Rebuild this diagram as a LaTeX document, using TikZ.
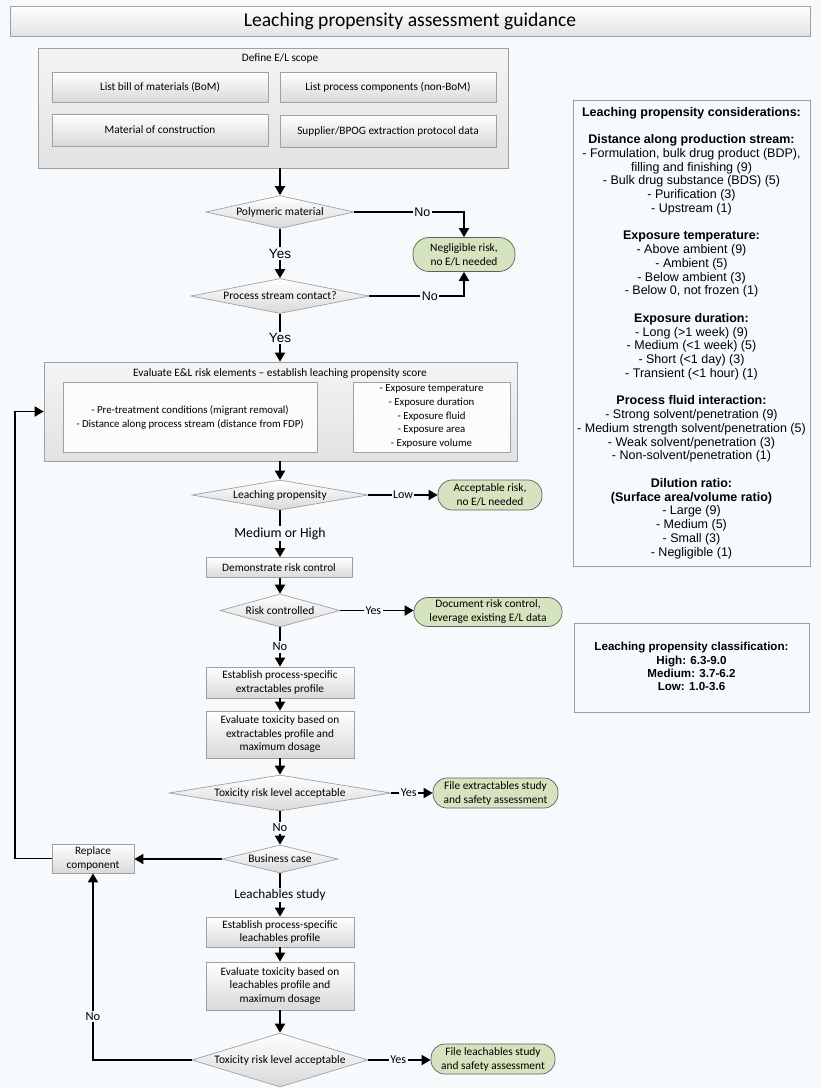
\documentclass[tikz,border=0pt]{standalone}
\usepackage{fontspec}
\setmainfont{Carlito}
\newfontfamily\arialf{Liberation Sans}
\usetikzlibrary{shapes.geometric,arrows.meta,calc}
\definecolor{bg}{HTML}{F7FAFD}
\definecolor{bord}{HTML}{A0A0A0}
\definecolor{gbot}{HTML}{D9D9D9}
\definecolor{ctop}{HTML}{F4F4F4}
\definecolor{cbot}{HTML}{E2E2E2}
\definecolor{gfill}{HTML}{D5E3BF}
\definecolor{gbord}{HTML}{5E5E5E}
\begin{document}
\begin{tikzpicture}[x=1pt,y=-1pt,
  every node/.style={font=\fontsize{11.3}{13.5}\selectfont, align=center, inner sep=0pt},
  cont/.style={draw=bord, line width=0.7pt, top color=ctop, bottom color=cbot},
  pbox/.style={draw=bord, line width=0.7pt, top color=white, bottom color=gbot},
  ibox/.style={draw=bord, line width=0.7pt, fill=white!50!bg},
  dia/.style={diamond, draw=bord, line width=0.7pt, top color=white, bottom color=gbot, font=\fontsize{11.5}{13}\selectfont},
  term/.style={draw=gbord, line width=0.7pt, fill=gfill, font=\fontsize{11.4}{14}\selectfont},
  arr/.style={line width=1.8pt, -{Triangle[length=9pt,width=10pt]}},
  lbl/.style={fill=bg, inner sep=1.5pt},
  toplbl/.style={lbl, font=\arialf\fontsize{13.5}{15}\selectfont},
  sidelbl/.style={lbl, font=\arialf\fontsize{12.5}{14}\selectfont},
  smlbl/.style={lbl, font=\fontsize{12}{13}\selectfont},
  biglbl/.style={lbl, font=\fontsize{13.8}{15}\selectfont},
  panel/.style={draw=gray!75, line width=0.8pt, fill=bg},
  ptext/.style={font=\arialf\fontsize{12.5}{13.75}\selectfont},
]
\useasboundingbox (0,0) rectangle (821,1088);
\fill[bg] (0,0) rectangle (821,1088);

% title
\node[draw=bord, line width=0.7pt, top color=white, bottom color=cbot, minimum width=800, minimum height=30,
  font=\fontsize{19.6}{21}\selectfont] (title) at (410,21) {Leaching propensity assessment guidance};

% scope
\node[cont, minimum width=470, minimum height=120] (scope) at (273,108) {};
\node (scopet) at (280,58) {Define E/L scope};
\node[pbox, minimum width=216, minimum height=30] (bom) at (160,87) {List bill of materials (BoM)};
\node[pbox, minimum width=216, minimum height=30] (nonbom) at (388,87) {List process components (non-BoM)};
\node[pbox, minimum width=216, minimum height=32] (moc) at (160,130) {Material of construction};
\node[pbox, minimum width=216, minimum height=32] (sup) at (388,131) {Supplier/BPOG extraction protocol data};

% top decisions
\node[dia, aspect=4.5, minimum width=148, minimum height=33] (poly) at (280,212) {Polymeric material};
\node[term, minimum width=102, minimum height=34, rounded corners=16] (neg) at (464,254.5) {Negligible risk,\\no E/L needed};
\node[dia, aspect=5.1, minimum width=178, minimum height=35] (pcs) at (280,296) {Process stream contact?};

% evaluate
\node[cont, minimum width=473, minimum height=99] (eval) at (280.5,411.5) {};
\node (evalt) at (280,374) {Evaluate E\&L risk elements -- establish leaching propensity score};
\node[ibox, minimum width=254, minimum height=70, font=\fontsize{10.8}{14}\selectfont] (evl) at (190,417) {- Pre-treatment conditions (migrant removal)\\- Distance along process stream (distance from FDP)};
\node[ibox, minimum width=157, minimum height=70] (evr) at (431.5,417) {};
\node[font=\fontsize{10.8}{13.75}\selectfont] (evrt) at (431.5,416.5) {- Exposure temperature\\- Exposure duration\\- Exposure fluid\\- Exposure area\\- Exposure volume};

% leaching propensity
\node[dia, aspect=5.9, minimum width=176, minimum height=30] (lp) at (280,495) {Leaching propensity};
\node[term, minimum width=104, minimum height=30, rounded corners=14] (acc) at (490,495) {Acceptable risk,\\no E/L needed};
\node[pbox, minimum width=146, minimum height=20] (demo) at (279,567.5) {Demonstrate risk control};
\node[dia, aspect=3.6, minimum width=120, minimum height=33] (rc) at (280,610.5) {Risk controlled};
\node[term, minimum width=148, minimum height=29, rounded corners=14] (doc) at (488,612) {Document risk control,\\leverage existing E/L data};

% extractables
\node[pbox, minimum width=148, minimum height=31] (ext) at (280,682.5) {Establish process-specific\\extractables profile};
\node[pbox, minimum width=148, minimum height=47] (tox1) at (280,734.5) {Evaluate toxicity based on\\extractables profile and\\maximum dosage};
\node[dia, aspect=6.2, minimum width=222, minimum height=36] (tox1d) at (280,793) {Toxicity risk level acceptable};
\node[term, minimum width=125, minimum height=30, rounded corners=14] (fext) at (495.5,793) {File extractables study\\and safety assessment};
\node[dia, aspect=4.1, minimum width=116, minimum height=28] (bc) at (280,859) {Business case};
\node[pbox, minimum width=82, minimum height=29] (repl) at (93,858.5) {Replace\\component};

% leachables
\node[pbox, minimum width=148, minimum height=30] (leach) at (280,932) {Establish process-specific\\leachables profile};
\node[pbox, minimum width=148, minimum height=48] (tox2) at (280,986) {Evaluate toxicity based on\\leachables profile and\\maximum dosage};
\node[dia, aspect=3.26, minimum width=176, minimum height=54] (tox2d) at (280,1060) {Toxicity risk level acceptable};
\node[term, minimum width=124, minimum height=30, rounded corners=14] (fleach) at (493,1059) {File leachables study\\and safety assessment};

% connectors
\draw[arr] (poly.north |- scope.south) -- (poly.north);
\draw[arr] (poly.east) -| node[sidelbl, pos=0.31]{No} (neg.north);
\draw[arr] (poly.south) -- node[toplbl]{Yes} (pcs.north);
\draw[arr] (pcs.east) -| node[sidelbl, pos=0.32]{No} (neg.south);
\draw[arr] (pcs.south) -- node[toplbl]{Yes} (pcs.south |- eval.north);
\draw[arr] (lp.north |- eval.south) -- (lp.north);
\draw[arr] (lp.east) -- node[smlbl]{Low} (acc.west);
\draw[arr] (lp.south) -- node[biglbl]{Medium or High} (demo.north -| lp.south);
\draw[arr] (rc.north |- demo.south) -- (rc.north);
\draw[arr] (rc.east) -- node[smlbl, pos=0.45]{Yes} (rc.east -| doc.west);
\draw[arr] (rc.south) -- node[biglbl, font=\fontsize{12.5}{14}\selectfont]{No} (ext.north);
\draw[arr] (ext.south) -- (tox1.north);
\draw[arr] (tox1.south) -- (tox1d.north);
\draw[arr] (tox1d.east) -- node[smlbl, pos=0.42]{Yes} (tox1d.east -| fext.west);
\draw[arr] (tox1d.south) -- node[biglbl, font=\fontsize{12.5}{14}\selectfont]{No} (bc.north);
\draw[arr] (bc.west) -- (bc.west -| repl.east);
\draw[arr] (repl.west) -| ([xshift=-29pt]eval.west) -- (eval.west);
\draw[arr] (bc.south) -- node[biglbl, font=\fontsize{13.2}{14}\selectfont]{Leachables study} (leach.north);
\draw[arr] (leach.south) -- (tox2.north);
\draw[arr] (tox2.south) -- (tox2d.north);
\draw[arr] (tox2d.west) -| node[biglbl, font=\fontsize{12.5}{14}\selectfont, pos=0.617]{No} (repl.south);
\draw[arr] (tox2d.east) -- node[smlbl, pos=0.48]{Yes} (tox2d.east -| fleach.west);

% right panels
\node[panel, minimum width=237, minimum height=466] (cons) at (691.5,333) {};
\node[ptext] (const) at (691.5,333) {\textbf{Leaching propensity considerations:}\\[13.75pt]
\textbf{Distance along production stream:}\\
- Formulation, bulk drug product (BDP),\\
filling and finishing (9)\\
- Bulk drug substance (BDS) (5)\\
- Purification (3)\\
- Upstream (1)\\[13.75pt]
\textbf{Exposure temperature:}\\
- Above ambient (9)\\
- Ambient (5)\\
- Below ambient (3)\\
- Below 0, not frozen (1)\\[13.75pt]
\textbf{Exposure duration:}\\
- Long (>1 week) (9)\\
- Medium (<1 week) (5)\\
- Short (<1 day) (3)\\
- Transient (<1 hour) (1)\\[13.75pt]
\textbf{Process fluid interaction:}\\
- Strong solvent/penetration (9)\\
- Medium strength solvent/penetration (5)\\
- Weak solvent/penetration (3)\\
- Non-solvent/penetration (1)\\[13.75pt]
\textbf{Dilution ratio:}\\
\textbf{(Surface area/volume ratio)}\\
- Large (9)\\
- Medium (5)\\
- Small (3)\\
- Negligible (1)};

\node[panel, minimum width=235, minimum height=89] (cls) at (691.5,667.5) {};
\node[ptext, font=\arialf\bfseries\fontsize{11.6}{13.2}\selectfont] (clst) at (691.5,666.5) {Leaching propensity classification:\\High: 6.3-9.0\\Medium: 3.7-6.2\\Low: 1.0-3.6};
\end{tikzpicture}
\end{document}
